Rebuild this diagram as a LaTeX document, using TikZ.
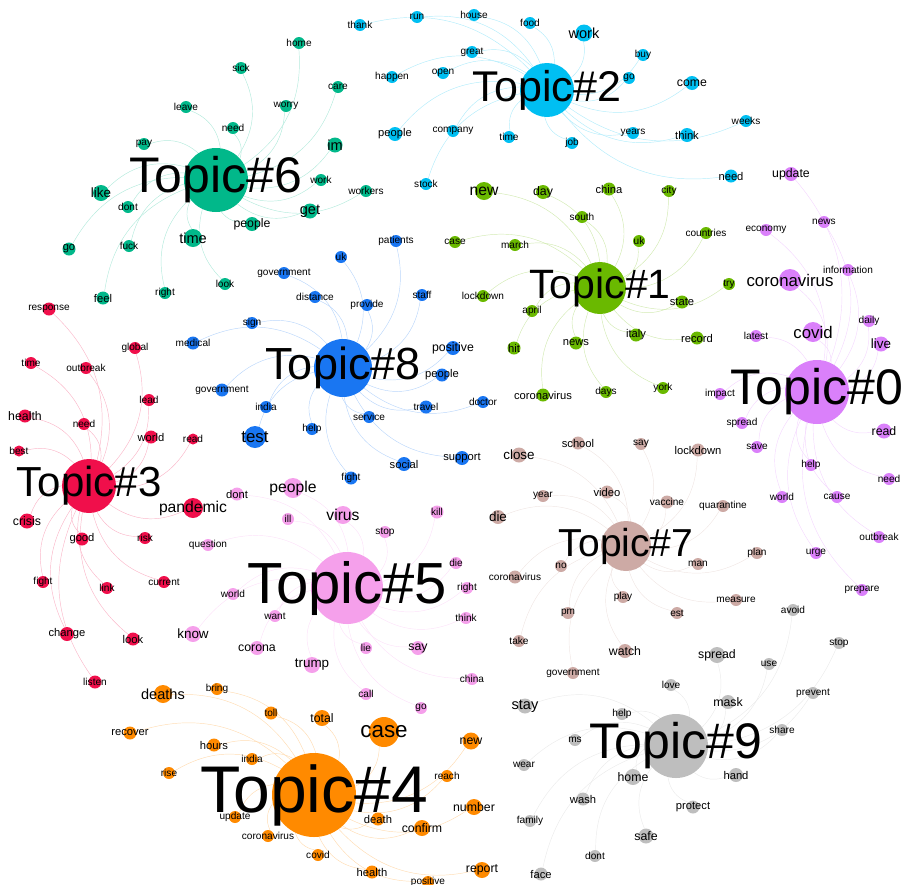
\documentclass[tikz,border=0pt]{standalone}
\usepackage{fontspec}
\setmainfont{Liberation Sans}
\pgfdeclarelayer{bg}
\pgfdeclarelayer{fg}
\pgfsetlayers{bg,main,fg}
\definecolor{cSix}{RGB}{1,184,138}
\definecolor{cTwo}{RGB}{0,191,242}
\definecolor{cOne}{RGB}{106,185,0}
\definecolor{cZero}{RGB}{218,128,250}
\definecolor{cEight}{RGB}{25,118,242}
\definecolor{cThree}{RGB}{240,15,75}
\definecolor{cFive}{RGB}{245,160,235}
\definecolor{cSeven}{RGB}{205,170,165}
\definecolor{cNine}{RGB}{190,190,190}
\definecolor{cFour}{RGB}{255,138,0}
\tikzset{
  tnode/.style={circle, inner sep=0pt, draw=none},
  wnode/.style={circle, inner sep=0pt, draw=none},
  wlabel/.style={inner sep=0pt, text=black},
  tlabel/.style={inner sep=0pt, text=black},
  edge/.style={line width=0.45pt},
}
\newcommand{\wordgroup}[3]{%
  \foreach \x/\y/\d/\f/\t [count=\i] in {#3} {
    \node[wnode, fill=#2, minimum size=\d pt] (#1w\i) at (\x,\y) {};
    \begin{pgfonlayer}{bg}
      \draw[edge, draw=#2!30] (#1) to[bend right=30] (#1w\i);
    \end{pgfonlayer}
    \pgfmathsetmacro\fs{\f*1.12}
    \begin{pgfonlayer}{fg}
      \node[wlabel, font=\fontsize{\fs}{\fs}\selectfont] at (#1w\i) {\t};
    \end{pgfonlayer}
  }%
}
\begin{document}
\begin{tikzpicture}[x=1pt, y=-1pt]
\useasboundingbox (0,0) rectangle (909,884);

% ---------- Topic#6 ----------
\node[tnode, fill=cSix, minimum size=64pt] (t6) at (216,180) {};
\begin{pgfonlayer}{fg}\node[tlabel, font=\fontsize{50}{50}\selectfont] at (t6) {Topic\#6};\end{pgfonlayer}
\wordgroup{t6}{cSix}{299/43/12/9/home, 241/68/12/9/sick, 186/107/12/9/leave, 286/106/12/9/worry,
 233/128/12/9/need, 338/87/12/9/care, 144/144/12/9/pay, 335/145/15/13/im, 321/180/12/9/work,
 366/191/12/9/workers, 310/211/15/13/get, 101/193/16/12/like, 128/207/12/9/dont, 252/224/14/11/people,
 193/238/18/13/time, 69/249/13/10/go, 129/246/12/9/fuck, 225/284/12/9/look, 165/293/12/9/right, 103/298/13/10/feel}

% ---------- Topic#2 ----------
\node[tnode, fill=cTwo, minimum size=54pt] (t2) at (547,90) {};
\begin{pgfonlayer}{fg}\node[tlabel, font=\fontsize{43}{43}\selectfont] at (t2) {Topic\#2};\end{pgfonlayer}
\wordgroup{t2}{cTwo}{360/25/12/9/thank, 417/17/12/9/run, 474/15/12/9/house, 530/23/12/9/food,
 584/33/17/13/work, 472/52/12/9/great, 392/77/12/9/happen, 443/73/12/9/open, 643/55/12/9/buy,
 629/78/12/9/go, 692/83/14/11/come, 395/134/14/10/people, 453/131/12/9/company, 509/137/12/9/time,
 572/143/12/9/job, 633/133/12/9/years, 687/135/14/10/think, 746/121/12/9/weeks, 426/184/12/9/stock, 731/176/13/10/need}

% ---------- Topic#1 ----------
\node[tnode, fill=cOne, minimum size=52pt] (t1) at (600,288) {};
\begin{pgfonlayer}{fg}\node[tlabel, font=\fontsize{41}{41}\selectfont] at (t1) {Topic\#1};\end{pgfonlayer}
\wordgroup{t1}{cOne}{484/191/18/14/new, 543/192/14/11/day, 609/189/13/10/china, 669/191/12/9/city,
 582/217/12/9/south, 455/242/12/9/case, 515/245/12/9/march, 639/241/12/9/uk, 706/233/12/9/countries,
 483/296/12/9/lockdown, 729/284/12/9/try, 682/302/13/10/state, 532/311/12/9/april, 636/335/13/10/italy,
 697/338/13/10/record, 514/348/13/10/hit, 576/343/13/10/news, 543/395/13/10/coronavirus, 606/392/12/9/days, 663/388/12/9/york}

% ---------- Topic#0 ----------
\node[tnode, fill=cZero, minimum size=64pt] (t0) at (817,392) {};
\begin{pgfonlayer}{fg}\node[tlabel, font=\fontsize{50}{50}\selectfont] at (t0) {Topic\#0};\end{pgfonlayer}
\wordgroup{t0}{cZero}{791/174/14/11/update, 824/222/12/9/news, 766/230/12/9/economy, 848/270/12/9/information,
 790/280/22/15/coronavirus, 813/332/20/15/covid, 756/336/12/9/latest, 869/321/12/9/daily, 881/344/15/12/live,
 720/394/12/9/impact, 742/423/12/9/spread, 757/447/12/9/save, 884/431/15/11/read, 811/465/12/9/help,
 889/479/12/9/need, 782/497/12/9/world, 837/497/12/9/cause, 879/537/12/9/outbreak, 816/553/12/9/urge, 862/590/12/9/prepare}

% ---------- Topic#8 ----------
\node[tnode, fill=cEight, minimum size=58pt] (t8) at (343,368) {};
\begin{pgfonlayer}{fg}\node[tlabel, font=\fontsize{45}{45}\selectfont] at (t8) {Topic\#8};\end{pgfonlayer}
\wordgroup{t8}{cEight}{396/241/12/9/patients, 341/257/12/9/uk, 284/273/12/9/government, 315/297/12/9/distance,
 367/305/12/9/provide, 422/295/12/9/staff, 252/323/12/9/sign, 193/343/13/9/medical, 222/390/13/9/government,
 266/407/12/9/india, 255/437/22/15/test, 453/348/14/11/positive, 442/375/13/10/people, 483/402/12/9/doctor,
 426/407/13/9/travel, 369/417/12/9/service, 312/429/12/9/help, 462/458/14/10/support, 404/464/14/10/social, 351/478/13/9/fight}

% ---------- Topic#3 ----------
\node[tnode, fill=cThree, minimum size=54pt] (t3) at (89,486) {};
\begin{pgfonlayer}{fg}\node[tlabel, font=\fontsize{42}{42}\selectfont] at (t3) {Topic\#3};\end{pgfonlayer}
\wordgroup{t3}{cThree}{49/309/13/9/response, 135/348/12/9/global, 31/363/12/9/time, 86/368/12/9/outbreak,
 149/400/12/9/lead, 25/416/13/11/health, 84/424/12/9/need, 151/437/13/10/world, 193/439/11/9/read,
 19/451/11/9/best, 193/508/20/14/pandemic, 27/521/15/11/crisis, 82/539/13/10/good, 145/538/12/9/risk,
 43/582/12/9/fight, 107/588/12/9/link, 164/582/12/9/current, 67/634/14/10/change, 133/639/13/10/look, 95/682/13/9/listen}

% ---------- Topic#5 ----------
\node[tnode, fill=cFive, minimum size=72pt] (t5) at (347,588) {};
\begin{pgfonlayer}{fg}\node[tlabel, font=\fontsize{58}{58}\selectfont] at (t5) {Topic\#5};\end{pgfonlayer}
\wordgroup{t5}{cFive}{237/494/13/10/dont, 293/488/20/14/people, 288/519/12/9/ill, 343/515/18/14/virus,
 437/512/13/9/kill, 385/532/12/9/stop, 208/545/12/9/question, 456/563/12/9/die, 467/588/12/9/right,
 233/594/12/9/world, 466/618/12/9/think, 275/616/12/9/want, 193/634/16/12/know, 257/648/14/11/corona,
 366/648/12/9/lie, 418/648/14/11/say, 312/665/16/12/trump, 472/679/12/9/china, 366/694/12/9/call, 421/708/12/9/go}

% ---------- Topic#7 ----------
\node[tnode, fill=cSeven, minimum size=50pt] (t7) at (626,546) {};
\begin{pgfonlayer}{fg}\node[tlabel, font=\fontsize{39}{39}\selectfont] at (t7) {Topic\#7};\end{pgfonlayer}
\wordgroup{t7}{cSeven}{519/455/15/12/close, 578/443/13/10/school, 641/444/12/9/say, 698/450/13/10/lockdown,
 543/496/12/9/year, 607/492/13/10/video, 667/502/13/9/vaccine, 723/506/12/9/quarantine, 498/517/14/12/die,
 561/566/12/9/no, 515/577/13/9/coronavirus, 698/564/12/9/man, 757/553/12/9/plan, 623/597/12/9/play,
 736/600/12/9/measure, 568/613/12/9/pm, 677/613/12/9/est, 519/641/12/9/take, 625/651/14/11/watch, 573/673/12/9/government}

% ---------- Topic#9 ----------
\node[tnode, fill=cNine, minimum size=64pt] (t9) at (676,746) {};
\begin{pgfonlayer}{fg}\node[tlabel, font=\fontsize{50}{50}\selectfont] at (t9) {Topic\#9};\end{pgfonlayer}
\wordgroup{t9}{cNine}{793/610/12/9/avoid, 839/643/12/9/stop, 717/655/16/11/spread, 769/664/12/9/use,
 671/685/12/9/love, 813/693/12/9/prevent, 728/702/14/11/mask, 622/714/12/9/help, 782/730/12/9/share,
 633/777/16/11/home, 736/775/14/10/hand, 693/807/13/10/protect, 646/836/15/11/safe, 525/706/15/13/stay,
 575/740/12/9/ms, 524/765/12/9/wear, 583/799/13/10/wash, 530/821/12/9/family, 595/856/12/9/dont, 541/874/13/10/face}

% ---------- Topic#4 ----------
\node[tnode, fill=cFour, minimum size=84pt] (t4) at (314,795) {};
\begin{pgfonlayer}{fg}\node[tlabel, font=\fontsize{66}{66}\selectfont] at (t4) {Topic\#4};\end{pgfonlayer}
\wordgroup{t4}{cFour}{163/694/18/13/deaths, 217/689/12/9/bring, 271/713/13/9/toll, 130/733/13/10/recover,
 214/745/13/10/hours, 252/759/12/9/india, 169/773/12/9/rise, 235/817/12/9/update, 268/836/12/9/coronavirus,
 322/718/16/11/total, 384/732/30/20/case, 471/741/17/11/new, 447/776/12/9/reach, 474/807/16/11/number,
 378/819/13/10/death, 422/828/16/11/confirm, 318/855/12/9/covid, 372/872/13/10/health, 482/870/16/11/report, 428/882/12/9/positive}

\end{tikzpicture}
\end{document}
